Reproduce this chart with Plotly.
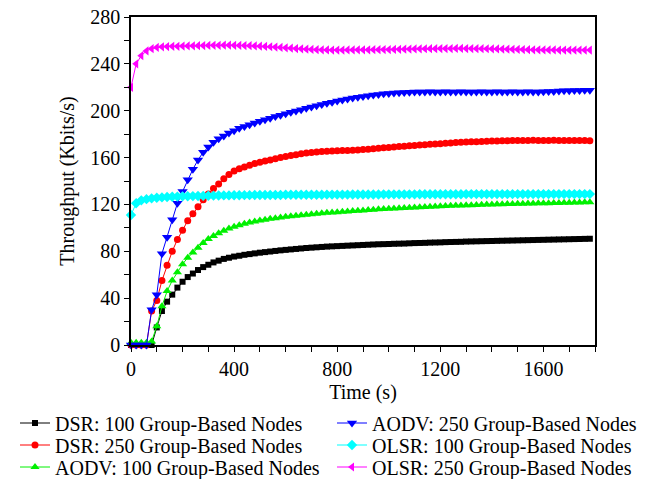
import plotly.graph_objects as go

# Simulation time (s), one sample every 20 s
time_s = list(range(0, 1800, 20))

dsr_100 = [
    0, 0, 0, 0, 0, 15, 29, 37, 43, 49,
    54, 58, 61, 64, 66.5, 68.5, 70.5, 72, 73.5, 74.5,
    75.5, 76.2, 77, 77.6, 78.2, 78.8, 79.3, 79.8, 80.3, 80.8,
    81.2, 81.6, 82, 82.4, 82.8, 83.1, 83.4, 83.7, 84, 84.2,
    84.4, 84.6, 84.8, 85, 85.2, 85.4, 85.6, 85.8, 86, 86.1,
    86.2, 86.4, 86.5, 86.6, 86.8, 87, 87.1, 87.2, 87.4, 87.5,
    87.6, 87.8, 87.9, 88, 88.1, 88.3, 88.4, 88.5, 88.6, 88.7,
    88.8, 88.9, 89, 89.1, 89.2, 89.3, 89.4, 89.5, 89.6, 89.7,
    89.8, 89.9, 90, 90.1, 90.2, 90.3, 90.4, 90.5, 90.6, 90.7,
]

dsr_250 = [
    0, 0, 0, 0, 29, 38, 55, 68, 80, 90,
    98, 106, 112, 118, 124, 129, 133.5, 137.5, 142, 145.5,
    148.5, 150.5, 152, 153.5, 155, 156, 157, 158, 159, 160,
    161, 161.8, 162.5, 163.2, 163.8, 164.3, 164.8, 165.2, 165.5, 165.7,
    165.8, 166, 166.1, 166.3, 166.5, 166.8, 167.1, 167.5, 167.9, 168.3,
    168.7, 169, 169.4, 169.7, 170, 170.3, 170.7, 171, 171.3, 171.6,
    171.9, 172.2, 172.5, 172.8, 173, 173.2, 173.4, 173.6, 173.8, 174,
    174.1, 174.2, 174.3, 174.4, 174.5, 174.5, 174.6, 174.5, 174.7, 174.6,
    174.5, 174.6, 174.7, 174.6, 174.5, 174.6, 174.5, 174.6, 174.5, 174.4,
]

aodv_100 = [
    2, 2, 2, 2, 3, 16, 33, 46, 55, 62,
    69, 74.5, 79, 83, 87, 90.5, 93, 95.5, 97.5, 99.5,
    101, 102.3, 103.5, 104.5, 105.5, 106.3, 107, 107.7, 108.3, 108.9,
    109.4, 109.9, 110.4, 110.8, 111.2, 111.6, 112, 112.4, 112.8, 113.1,
    113.4, 113.7, 114, 114.3, 114.6, 114.9, 115.2, 115.5, 115.8, 116,
    116.3, 116.5, 116.8, 117, 117.2, 117.4, 117.6, 117.8, 118, 118.2,
    118.4, 118.6, 118.8, 119, 119.1, 119.3, 119.4, 119.6, 119.7, 119.9,
    120, 120.1, 120.2, 120.3, 120.4, 120.5, 120.6, 120.7, 120.8, 120.9,
    121, 121.1, 121.2, 121.3, 121.4, 121.5, 121.6, 121.7, 121.8, 121.9,
]

aodv_250 = [
    0, 0, 0, 0, 30, 43, 78, 92, 107, 121,
    131, 141, 150, 158, 164.5, 169, 173, 176, 178.5, 181,
    183, 185, 186.5, 188, 189.5, 191, 192.3, 193.6, 195, 196.2,
    197.5, 198.7, 199.8, 200.9, 202, 203.2, 204.3, 205.3, 206.3, 207.3,
    208.3, 209.2, 210, 210.8, 211.5, 212.2, 212.8, 213.4, 213.9, 214.4,
    214.8, 215.1, 215.4, 215.6, 215.8, 215.9, 216, 216, 216.1, 216,
    216, 216.1, 216, 216, 216.1, 216, 216, 216, 216.1, 216,
    216, 216.1, 216, 216, 216.1, 216, 216, 216.1, 216, 216,
    216.1, 216.3, 216.5, 216.8, 217, 217.1, 217.2, 217.3, 217.4, 217.5,
]

olsr_100 = [
    111, 121, 123.5, 124.5, 125.2, 125.7, 126, 126.3, 126.5, 126.7,
    126.9, 127, 127.1, 127.2, 127.3, 127.4, 127.5, 127.6, 127.7, 127.7,
    127.8, 127.8, 127.9, 127.9, 128, 128, 128, 128.1, 128.1, 128.1,
    128.2, 128.2, 128.2, 128.2, 128.3, 128.3, 128.3, 128.3, 128.4, 128.4,
    128.4, 128.4, 128.4, 128.5, 128.5, 128.5, 128.5, 128.5, 128.5, 128.6,
    128.6, 128.6, 128.6, 128.6, 128.6, 128.6, 128.7, 128.7, 128.7, 128.7,
    128.7, 128.7, 128.7, 128.7, 128.7, 128.8, 128.8, 128.8, 128.8, 128.8,
    128.8, 128.8, 128.8, 128.8, 128.8, 128.8, 128.8, 128.8, 128.8, 128.8,
    128.8, 128.8, 128.8, 128.8, 128.8, 128.8, 128.8, 128.8, 128.8, 128.8,
]

olsr_250 = [
    220, 240, 247, 251, 253, 254, 254.5, 254.8, 255, 255,
    255.2, 255.3, 255.4, 255.5, 255.6, 255.7, 255.8, 255.8, 255.9, 255.9,
    255.8, 255.7, 255.6, 255.5, 255.3, 255.1, 254.9, 254.6, 254.3, 254,
    253.7, 253.4, 253.1, 252.8, 252.5, 252.3, 252.1, 252, 251.9, 251.8,
    251.8, 251.8, 251.9, 251.9, 252, 252, 252, 252.1, 252.1, 252.2,
    252.2, 252.3, 252.4, 252.5, 252.6, 252.7, 252.8, 252.9, 253, 253,
    253.1, 253.1, 253.1, 253.2, 253.2, 253.1, 253.1, 253, 253, 252.9,
    252.8, 252.7, 252.6, 252.5, 252.4, 252.3, 252.2, 252.1, 252, 252,
    251.9, 251.9, 251.9, 251.8, 251.8, 251.8, 251.8, 251.8, 251.8, 251.8,
]

series_names = [
    "DSR: 100 Group-Based Nodes",
    "DSR: 250 Group-Based Nodes",
    "AODV: 100 Group-Based Nodes",
    "AODV: 250 Group-Based Nodes",
    "OLSR: 100 Group-Based Nodes",
    "OLSR: 250 Group-Based Nodes",
]
series_values = [dsr_100, dsr_250, aodv_100, aodv_250, olsr_100, olsr_250]
colors = ["#000000", "#ff0000", "#00f000", "#0000ff", "#00ffff", "#ff00ff"]
symbols = ["square", "circle", "triangle-up", "triangle-down", "diamond", "triangle-left"]
marker_sizes = [6, 7, 8, 9, 8, 8]

FONT = "Liberation Serif"
W, H = 650, 479
ML, MR, MT, MB = 131, 55, 17, 134

# Each entry gets its own legend so the two columns can be placed exactly
legend_pos = [(15, 423), (15, 445), (15, 467), (332, 423), (332, 445), (332, 467)]
legend_keys = ["legend"] + [f"legend{i}" for i in range(2, 7)]

fig = go.Figure()
for i, (name, vals) in enumerate(zip(series_names, series_values)):
    fig.add_trace(go.Scatter(
        x=time_s, y=vals, name=name, mode="lines+markers",
        line=dict(color=colors[i], width=1),
        marker=dict(symbol=symbols[i], size=marker_sizes[i], color=colors[i],
                    line=dict(width=0)),
        cliponaxis=False, legend=legend_keys[i], showlegend=True,
    ))

legends = {}
for key, (px, py) in zip(legend_keys, legend_pos):
    legends[key] = dict(
        x=(px - ML) / (W - ML - MR), y=(H - MB - py) / (H - MT - MB),
        xanchor="left", yanchor="middle",
        bgcolor="rgba(0,0,0,0)", borderwidth=0,
        font=dict(family=FONT, size=20, color="black"),
        itemwidth=30, visible=True,
    )

axis_common = dict(
    showline=True, linecolor="black", linewidth=1.5, mirror=True,
    ticks="outside", ticklen=5, tickwidth=1.2, tickcolor="black",
    showgrid=False, zeroline=False, automargin=False,
    tickfont=dict(family=FONT, size=20, color="black"),
)

fig.update_layout(
    width=W, height=H,
    margin=dict(l=ML, r=MR, t=MT, b=MB, autoexpand=False),
    paper_bgcolor="white", plot_bgcolor="white",
    font=dict(family=FONT, size=20, color="black"),
    xaxis=dict(
        range=[0, 1800], dtick=400, tick0=0,
        minor=dict(dtick=100, tick0=0, ticks="outside", ticklen=5,
                   tickwidth=1.2, tickcolor="black"),
        title=dict(text="Time (s)", font=dict(family=FONT, size=20), standoff=6),
        **axis_common,
    ),
    yaxis=dict(
        range=[0, 280], dtick=40, tick0=0,
        minor=dict(dtick=20, tick0=0, ticks="outside", ticklen=5,
                   tickwidth=1.2, tickcolor="black"),
        title=dict(text="Throughput (Kbits/s)", font=dict(family=FONT, size=20), standoff=10),
        **axis_common,
    ),
    **legends,
)

fig.write_html("out.html")
